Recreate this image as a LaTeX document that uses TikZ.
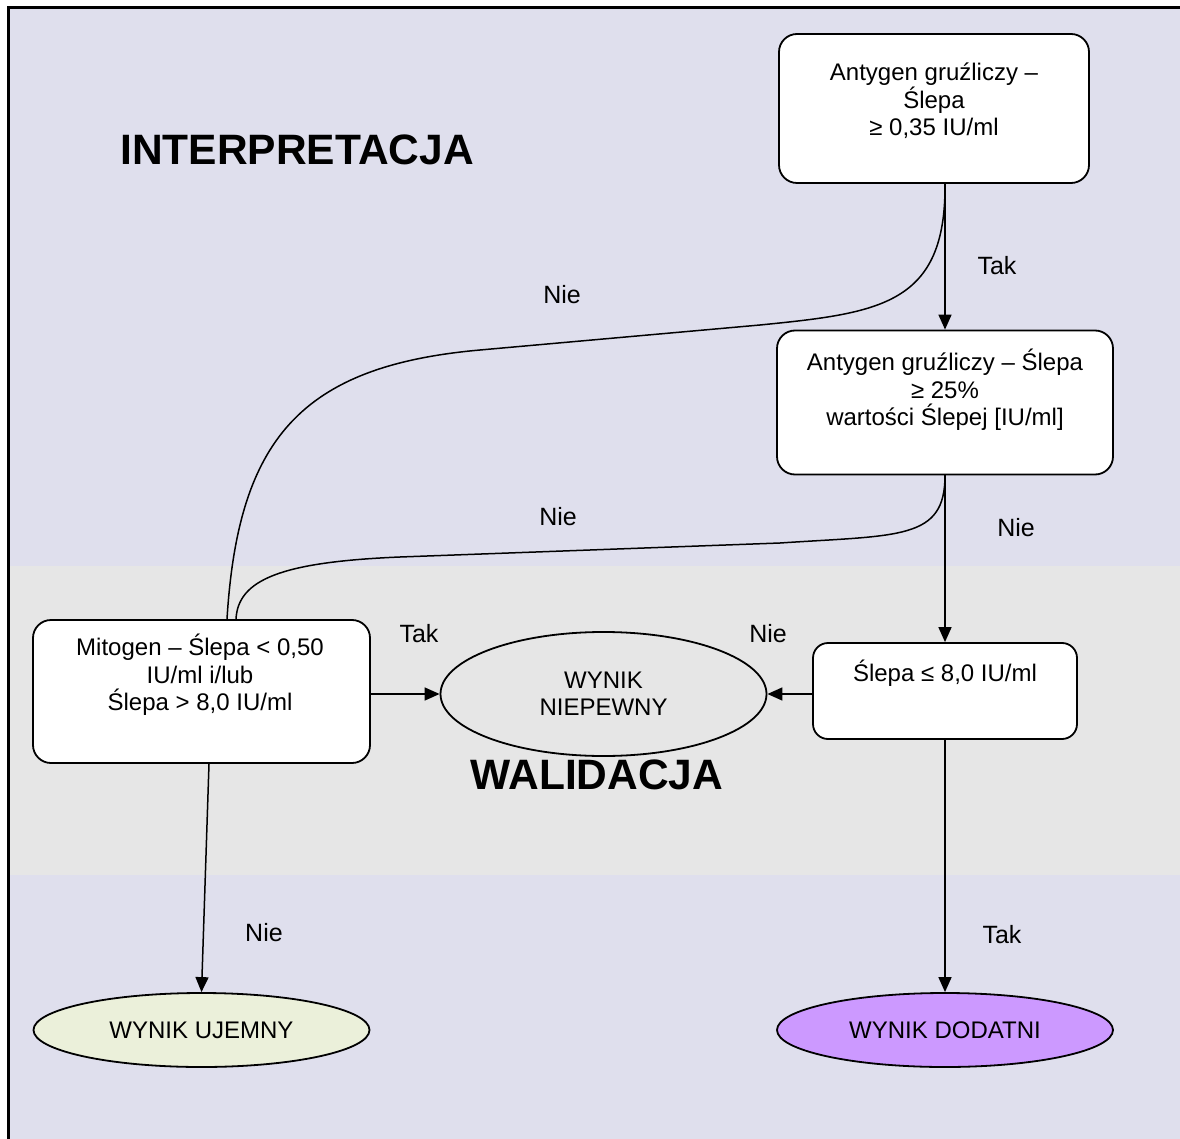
\documentclass[tikz,border=0pt]{standalone}
\usepackage{fontspec}
\setmainfont{Liberation Sans}
\usetikzlibrary{arrows.meta,shapes.geometric}
\definecolor{bglav}{RGB}{223,223,237}
\definecolor{bandgray}{RGB}{230,230,230}
\definecolor{ujfill}{RGB}{235,240,218}
\definecolor{dofill}{RGB}{204,153,255}
\begin{document}
\begin{tikzpicture}[x=1pt,y=-1pt,
  box/.style={rectangle, draw=black, line width=1.8pt, fill=white, rounded corners=18pt, inner sep=0pt},
  txt/.style={align=center, font=\fontsize{24}{27.5}\selectfont, inner sep=0pt},
  lbl/.style={font=\fontsize{25}{28}\selectfont, inner sep=0pt},
  ttl/.style={font=\fontsize{42.5}{46}\selectfont\bfseries, inner sep=0pt},
  oval/.style={ellipse, draw=black, line width=1.8pt, inner sep=0pt, align=center, font=\fontsize{24}{27}\selectfont},
  conn/.style={line width=1.5pt},
  arr/.style={conn, -{Triangle[length=15pt,width=13pt]}}]
\useasboundingbox (0,0) rectangle (1180,1139);
% background
\fill[white] (0,0) rectangle (1180,1139);
\fill[bglav] (8,7.5) rectangle (1180,1139);
\fill[bandgray] (9.5,566) rectangle (1180,875);
\draw[line width=3pt] (8,1139) -- (8,7.5) -- (1180,7.5);

% titles
\node[ttl] (tinterp) at (297,150) {INTERPRETACJA};
\node[ttl] (twalid) at (597,775) {WALIDACJA};

% boxes
\node[box, minimum width=310pt, minimum height=149pt] (b1) at (934,108.5) {};
\node[txt] (t1) at (934,101) {Antygen gruźliczy –\\Ślepa\\≥ 0,35 IU/ml};
\node[box, minimum width=336pt, minimum height=144pt] (b2) at (945,402.5) {};
\node[txt] (t2) at (945,390) {Antygen gruźliczy – Ślepa\\≥ 25\%\\wartości Ślepej [IU/ml]};
\node[box, minimum width=337pt, minimum height=143pt] (b3) at (201.5,691.5) {};
\node[txt] (t3) at (200,675) {Mitogen – Ślepa < 0,50\\IU/ml i/lub\\Ślepa > 8,0 IU/ml};
\node[box, minimum width=264pt, minimum height=96pt, rounded corners=15pt] (b4) at (945,691) {};
\node[txt] (t4) at (945,673) {Ślepa ≤ 8,0 IU/ml};

% ellipses
\node[oval, fill=bandgray, minimum width=326pt, minimum height=124pt] (e1) at (603.5,694) {WYNIK\\NIEPEWNY};
\node[oval, fill=ujfill, minimum width=336pt, minimum height=74pt] (e2) at (201.5,1030) {WYNIK UJEMNY};
\node[oval, fill=dofill, minimum width=336pt, minimum height=74pt] (e3) at (945,1030) {WYNIK DODATNI};

% connectors
\draw[arr] (b1.south -| b2.north) -- (b2.north);
\draw[arr] (b2.south) -- (b4.north);
\draw[arr] (b4.south) -- (e3.north);
\draw[arr] (b4.west |- e1.east) -- (e1.east);
\draw[arr] (b3.east |- e1.west) -- (e1.west);
\draw[arr] ([xshift=7.5pt]b3.south) -- (e2.north);
\draw[conn] (b1.south -| b2.north) .. controls (946,305) and (880,313) .. (760,325)
   -- (480,350) .. controls (300,366) and (238,440) .. ([xshift=25.5pt]b3.north);
\draw[conn] (b2.south) .. controls (945,540) and (900,535) .. (780,543)
   -- (400,557) .. controls (280,562) and (238,580) .. ([xshift=34.5pt]b3.north);

% labels
\node[lbl] (l1) at (562,295) {Nie};
\node[lbl] (l2) at (997,266) {Tak};
\node[lbl] (l3) at (558,517) {Nie};
\node[lbl] (l4) at (1016,528) {Nie};
\node[lbl] (l5) at (419,634) {Tak};
\node[lbl] (l6) at (768,634) {Nie};
\node[lbl] (l7) at (264,933) {Nie};
\node[lbl] (l8) at (1002,935) {Tak};
\end{tikzpicture}
\end{document}
